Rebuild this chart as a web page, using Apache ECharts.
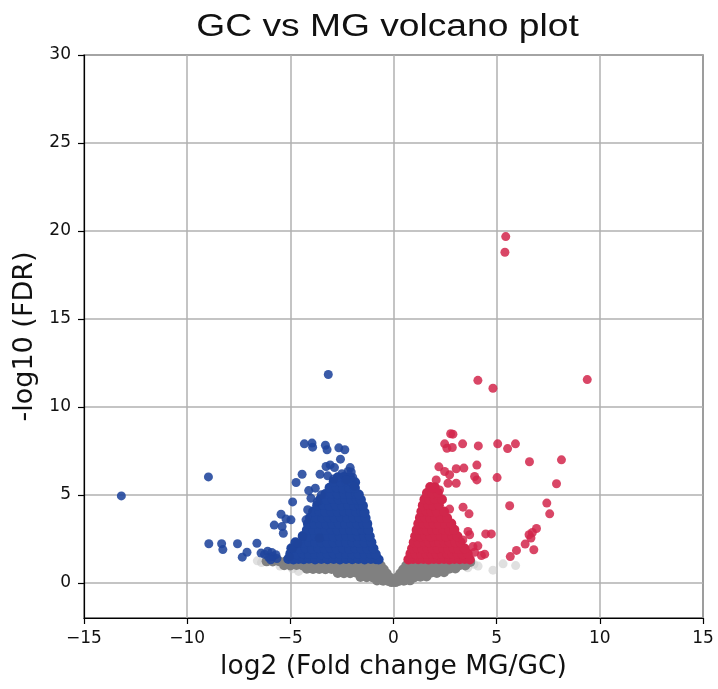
<!DOCTYPE html>
<html>
<head>
<meta charset="utf-8">
<script src="https://cdn.jsdelivr.net/npm/echarts@6/dist/echarts.min.js"></script>
<style>html,body{margin:0;padding:0;background:#fff;}#chart{width:718px;height:689px;}</style>
</head>
<body>
<div id="chart"></div>
<script>
const titleText = 'GC vs MG volcano plot';
const xAxisName = 'log2 (Fold change MG/GC)';
const yAxisName = '-log10 (FDR)';
const yTicks = [0, 5, 10, 15, 20, 25, 30];

// Down-regulated (blue): scattered points
const downOutliers = [
  [-13.19,4.94],[-8.97,6.02],[-8.95,2.22],[-8.33,2.22],[-8.27,1.89],[-7.56,2.22],[-7.10,1.74],[-7.33,1.46],
  [-6.62,2.25],[-6.42,1.69],[-6.25,1.62],[-6.1,1.8],[-6.05,1.45],[-5.9,1.72],[-5.85,1.5],[-5.7,1.6],[-5.65,1.38],[-5.95,1.31],
  [-5.78,3.28],[-5.45,3.9],[-5.40,3.2],[-5.21,3.62],[-5.34,2.82],[-4.97,3.58],[-4.89,4.6],[-4.72,5.7],[-4.43,6.17],
  [-4.32,7.9],[-3.95,7.94],[-3.92,7.71],[-3.30,7.82],[-3.22,7.56],[-2.65,7.67],[-2.36,7.56],[-2.57,7.03],
  [-3.27,6.61],[-3.07,6.7],[-2.86,6.55],[-3.56,6.17],[-3.19,6.08],[-2.2,6.33],[-1.98,6.0],[-4.11,5.24],[-3.79,5.38],
  [-4.0,4.81],[-4.16,4.15],[-4.24,3.58],[-4.4,2.63],[-5.05,1.49],[-4.89,1.97],[-4.64,2.25],[-3.59,2.54],[-3.16,11.84],
  [-2.9,5.9],[-2.5,6.2],[-2.3,5.85],[-1.9,5.5],[-2.05,6.3],[-3.5,5.0],[-3.7,4.6],[-2.1,6.55]
];
// Down-regulated (blue): dense mass
const downMass = [
  [-5.1,1.35],[-4.85,1.33],[-4.6,1.36],[-4.35,1.34],[-4.1,1.37],[-3.8,1.33],[-3.5,1.35],[-3.2,1.34],[-2.9,1.36],[-2.6,1.33],[-2.3,1.35],[-2.0,1.34],[-1.7,1.36],[-1.4,1.33],[-1.1,1.35],[-0.85,1.34],[-0.72,1.32],
  [-5.0,1.66],[-4.7,1.63],[-4.4,1.67],[-4.1,1.64],[-3.8,1.66],[-3.5,1.62],[-3.2,1.65],[-2.9,1.67],[-2.6,1.64],[-2.3,1.66],[-2.0,1.63],[-1.7,1.65],[-1.4,1.66],[-1.1,1.64],[-0.86,1.62],
  [-4.95,1.96],[-4.55,1.94],[-4.25,1.97],[-3.95,1.93],[-3.65,1.96],[-3.35,1.95],[-3.05,1.98],[-2.75,1.94],[-2.45,1.96],[-2.15,1.93],[-1.85,1.97],[-1.55,1.95],[-1.25,1.94],[-0.97,1.95],
  [-4.75,2.3],[-4.4,2.28],[-4.1,2.32],[-3.8,2.29],[-3.5,2.31],[-3.2,2.27],[-2.9,2.3],[-2.6,2.33],[-2.3,2.29],[-2.0,2.31],[-1.7,2.28],[-1.4,2.3],[-1.07,2.3],
  [-4.4,2.66],[-4.1,2.63],[-3.8,2.67],[-3.5,2.64],[-3.2,2.66],[-2.9,2.62],[-2.6,2.65],[-2.3,2.67],[-2.0,2.64],[-1.7,2.66],[-1.4,2.63],[-1.15,2.65],
  [-4.2,3.0],[-3.9,3.02],[-3.6,2.98],[-3.3,3.01],[-3.0,3.03],[-2.7,2.99],[-2.4,3.0],[-2.1,3.02],[-1.8,2.98],[-1.5,3.01],[-1.22,3.0],
  [-4.15,3.36],[-3.85,3.34],[-3.55,3.37],[-3.25,3.33],[-2.95,3.35],[-2.65,3.36],[-2.35,3.34],[-2.05,3.37],[-1.75,3.33],[-1.45,3.35],[-1.27,3.35],
  [-4.05,3.7],[-3.75,3.72],[-3.45,3.68],[-3.15,3.71],[-2.85,3.7],[-2.55,3.73],[-2.25,3.69],[-1.95,3.71],[-1.65,3.7],[-1.35,3.68],
  [-3.9,4.05],[-3.6,4.07],[-3.3,4.03],[-3.0,4.06],[-2.7,4.04],[-2.4,4.07],[-2.1,4.05],[-1.8,4.03],[-1.55,4.06],[-1.4,4.0],
  [-3.7,4.4],[-3.4,4.42],[-3.1,4.38],[-2.8,4.41],[-2.5,4.4],[-2.2,4.43],[-1.9,4.39],[-1.65,4.41],[-1.48,4.38],
  [-3.55,4.75],[-3.25,4.73],[-2.95,4.77],[-2.65,4.74],[-2.35,4.76],[-2.05,4.73],[-1.78,4.75],[-1.58,4.72],
  [-3.3,5.05],[-3.0,5.08],[-2.7,5.04],[-2.4,5.07],[-2.1,5.05],[-1.82,5.06],[-1.68,5.02],
  [-3.1,5.4],[-2.75,5.42],[-2.45,5.38],[-2.15,5.41],[-1.87,5.39],
  [-2.9,5.75],[-2.55,5.73],[-2.3,5.77],[-2.0,5.74],[-1.86,5.72],
  [-2.7,6.0],[-2.4,6.02],[-2.1,5.98]
];

// Up-regulated (red): scattered points
const upOutliers = [
  [5.44,19.68],[5.40,18.79],[4.09,11.51],[4.82,11.06],[9.39,11.55],[2.77,8.47],[2.88,8.45],[2.48,7.90],[2.59,7.65],
  [2.85,7.69],[3.35,7.90],[4.11,7.78],[5.05,7.90],[5.53,7.63],[5.91,7.90],[6.59,6.88],[8.14,6.99],[4.04,6.69],
  [3.04,6.48],[3.41,6.52],[3.93,6.04],[4.04,5.85],[5.02,5.98],[7.90,5.63],[2.20,6.59],[2.48,6.33],[2.72,6.14],
  [2.64,5.66],[3.04,5.66],[5.63,4.38],[7.43,4.53],[7.57,3.92],[6.93,3.09],[6.73,2.86],[6.57,2.73],[6.66,2.55],
  [6.38,2.20],[6.80,1.88],[5.96,1.84],[5.66,1.49],[4.47,2.78],[4.74,2.78],[3.37,4.30],[3.66,3.92],[3.61,2.92],
  [4.09,2.10],[3.93,1.74],[4.42,1.63],[4.26,1.55],[2.07,5.85],[1.91,5.38],[2.23,5.28],[2.72,4.19],[3.36,2.44],
  [3.69,2.73],[3.85,2.06]
];
// Up-regulated (red): dense mass
const upMass = [
  [0.72,1.33],[0.95,1.35],[1.2,1.34],[1.45,1.36],[1.7,1.33],[1.95,1.35],[2.2,1.34],[2.45,1.36],[2.7,1.33],[2.95,1.35],[3.2,1.34],[3.45,1.36],[3.7,1.33],
  [0.82,1.65],[1.08,1.63],[1.35,1.66],[1.6,1.64],[1.85,1.66],[2.1,1.63],[2.35,1.65],[2.6,1.67],[2.85,1.64],[3.1,1.66],[3.35,1.63],[3.6,1.65],
  [0.9,1.95],[1.15,1.97],[1.4,1.94],[1.65,1.96],[1.9,1.93],[2.15,1.95],[2.4,1.97],[2.65,1.94],[2.9,1.96],[3.15,1.93],[3.45,1.95],
  [0.98,2.3],[1.22,2.28],[1.48,2.31],[1.72,2.29],[1.98,2.32],[2.22,2.3],[2.48,2.28],[2.72,2.31],[3.0,2.29],[3.25,2.3],
  [1.05,2.65],[1.3,2.63],[1.55,2.66],[1.8,2.64],[2.05,2.67],[2.3,2.65],[2.55,2.63],[2.85,2.66],[3.1,2.64],
  [1.12,3.0],[1.38,3.02],[1.62,2.98],[1.88,3.01],[2.12,3.0],[2.4,3.03],[2.7,2.99],[2.95,3.01],
  [1.2,3.35],[1.45,3.37],[1.7,3.34],[1.95,3.36],[2.2,3.33],[2.5,3.35],[2.8,3.37],
  [1.28,3.7],[1.52,3.72],[1.78,3.69],[2.02,3.71],[2.3,3.7],[2.6,3.68],
  [1.35,4.05],[1.6,4.07],[1.85,4.04],[2.1,4.06],[2.45,4.05],
  [1.42,4.4],[1.68,4.42],[1.92,4.39],[2.2,4.41],
  [1.5,4.75],[1.75,4.73],[2.0,4.76],[2.35,4.74],
  [1.62,5.1],[1.88,5.08],[2.15,5.11],
  [1.78,5.45],[2.0,5.43]
];

// Not significant (grey): band
const nsPoints = [
  [-6.15,1.22],[-5.85,1.21],[-5.55,1.23],[-5.25,1.2],[-4.95,1.22],[-4.65,1.21],[-4.35,1.23],[-4.05,1.2],[-3.75,1.22],[-3.45,1.21],[-3.15,1.23],[-2.85,1.2],[-2.55,1.22],[-2.25,1.21],[-1.95,1.23],[-1.65,1.2],[-1.35,1.22],[-1.05,1.21],[-0.8,1.2],
  [0.78,1.2],[1.05,1.22],[1.35,1.21],[1.65,1.23],[1.95,1.2],[2.25,1.22],[2.55,1.21],[2.85,1.23],[3.15,1.2],[3.45,1.22],[3.72,1.18],
  [-5.3,1.0],[-5.0,0.98],[-4.7,1.01],[-4.4,0.99],[-4.1,1.0],[-3.8,0.98],[-3.5,1.01],[-3.2,0.99],[-2.9,1.0],[-2.6,0.98],[-2.3,1.01],[-2.0,0.99],[-1.7,1.0],[-1.4,0.98],[-1.1,1.01],[-0.85,0.99],[-0.62,0.98],
  [0.62,0.98],[0.85,1.0],[1.1,0.99],[1.4,1.01],[1.7,0.98],[2.0,1.0],[2.3,0.99],[2.6,1.01],[2.9,0.98],[3.2,1.0],[3.48,0.99],
  [-4.2,0.8],[-3.9,0.78],[-3.6,0.79],[-3.3,0.77],[-3.0,0.78],[-2.7,0.8],[-2.4,0.77],[-2.1,0.79],[-1.8,0.78],[-1.5,0.8],[-1.2,0.77],[-0.9,0.79],[-0.65,0.78],[-0.47,0.76],
  [0.47,0.76],[0.65,0.78],[0.9,0.79],[1.2,0.77],[1.5,0.8],[1.8,0.78],[2.1,0.79],[2.4,0.77],[2.7,0.8],[3.0,0.82],
  [-2.7,0.56],[-2.4,0.54],[-2.1,0.55],[-1.8,0.57],[-1.5,0.54],[-1.2,0.56],[-0.9,0.55],[-0.6,0.54],[-0.33,0.53],
  [0.33,0.53],[0.6,0.55],[0.9,0.54],[1.2,0.56],[1.5,0.55],[1.8,0.57],[2.1,0.56],[2.45,0.6],
  [-1.6,0.33],[-1.3,0.32],[-1.0,0.31],[-0.7,0.33],[-0.42,0.32],[-0.18,0.3],
  [0.18,0.3],[0.42,0.32],[0.7,0.33],[1.0,0.31],[1.3,0.34],[1.6,0.36],
  [-0.8,0.13],[-0.5,0.12],[-0.25,0.1],[0,0.08],[0.25,0.1],[0.5,0.12],[0.8,0.14],
  [-0.1,0.04],[0.1,0.04]
];
// Not significant, faint grey points at the edges of the band
const nsFaint = [
  [-6.4,1.15],[-6.6,1.25],[-4.6,0.65],[-4.9,0.8],[-5.5,0.95],[3.9,1.05],[4.1,0.95],[3.6,0.85],[4.82,0.72],[5.31,1.08],[5.92,0.98]
];

const chart = echarts.init(document.getElementById('chart'), null, {renderer: 'canvas'});
const tickFont = {fontFamily: 'DejaVu Sans', fontSize: 17, color: '#111'};
const minusFmt = v => String(v).replace('-', '\u2212');

chart.setOption({
  animation: false,
  backgroundColor: '#fff',
  graphic: [{
    type: 'text',
    x: 387.5, y: 27, scaleX: 1.2, scaleY: 1,
    style: {
      text: titleText, x: 0, y: 0, align: 'center', verticalAlign: 'middle',
      font: '31px "Liberation Sans", Arial, sans-serif', fill: '#111'
    }
  }],
  grid: {left: 84, right: 15, top: 55, bottom: 71, show: true, borderColor: '#000', borderWidth: 1.2, backgroundColor: 'transparent'},
  xAxis: {
    type: 'value', min: -15, max: 15, interval: 5,
    name: xAxisName, nameLocation: 'middle', nameGap: 36,
    nameTextStyle: {fontFamily: 'DejaVu Sans', fontSize: 26.5, color: '#111'},
    axisLine: {show: true, onZero: false, lineStyle: {color: '#000', width: 1.2}},
    axisTick: {show: true, inside: false, length: 6, lineStyle: {color: '#000', width: 1.2}},
    axisLabel: Object.assign({margin: 12, formatter: minusFmt}, tickFont),
    splitLine: {show: true, lineStyle: {color: '#b0b0b0', width: 1.5}}
  },
  yAxis: {
    type: 'value', min: -2, max: 30,
    name: yAxisName, nameLocation: 'middle', nameGap: 44, nameRotate: 90,
    nameTextStyle: {fontFamily: 'DejaVu Sans', fontSize: 27, color: '#111'},
    axisLine: {show: true, onZero: false, lineStyle: {color: '#000', width: 1.2}},
    axisTick: {show: true, inside: false, length: 6, customValues: yTicks, lineStyle: {color: '#000', width: 1.2}},
    axisLabel: Object.assign({margin: 13, customValues: yTicks, formatter: minusFmt}, tickFont),
    splitLine: {show: true, lineStyle: {color: '#b0b0b0', width: 1.5}}
  },
  series: [
    {type: 'scatter', data: nsFaint, symbolSize: 9, itemStyle: {color: '#cccccc', opacity: 0.6}, silent: true},
    {type: 'scatter', data: nsPoints, symbolSize: 10, itemStyle: {color: '#808080', opacity: 1}, silent: true},
    {type: 'scatter', data: downMass, symbolSize: 10, itemStyle: {color: '#1f469f', opacity: 1}, silent: true},
    {type: 'scatter', data: downOutliers, symbolSize: 9, itemStyle: {color: '#1f449c', opacity: 0.88}, silent: true},
    {type: 'scatter', data: upMass, symbolSize: 10, itemStyle: {color: '#d1274b', opacity: 1}, silent: true},
    {type: 'scatter', data: upOutliers, symbolSize: 9, itemStyle: {color: '#d2264b', opacity: 0.85}, silent: true}
  ]
});
</script>
</body>
</html>
